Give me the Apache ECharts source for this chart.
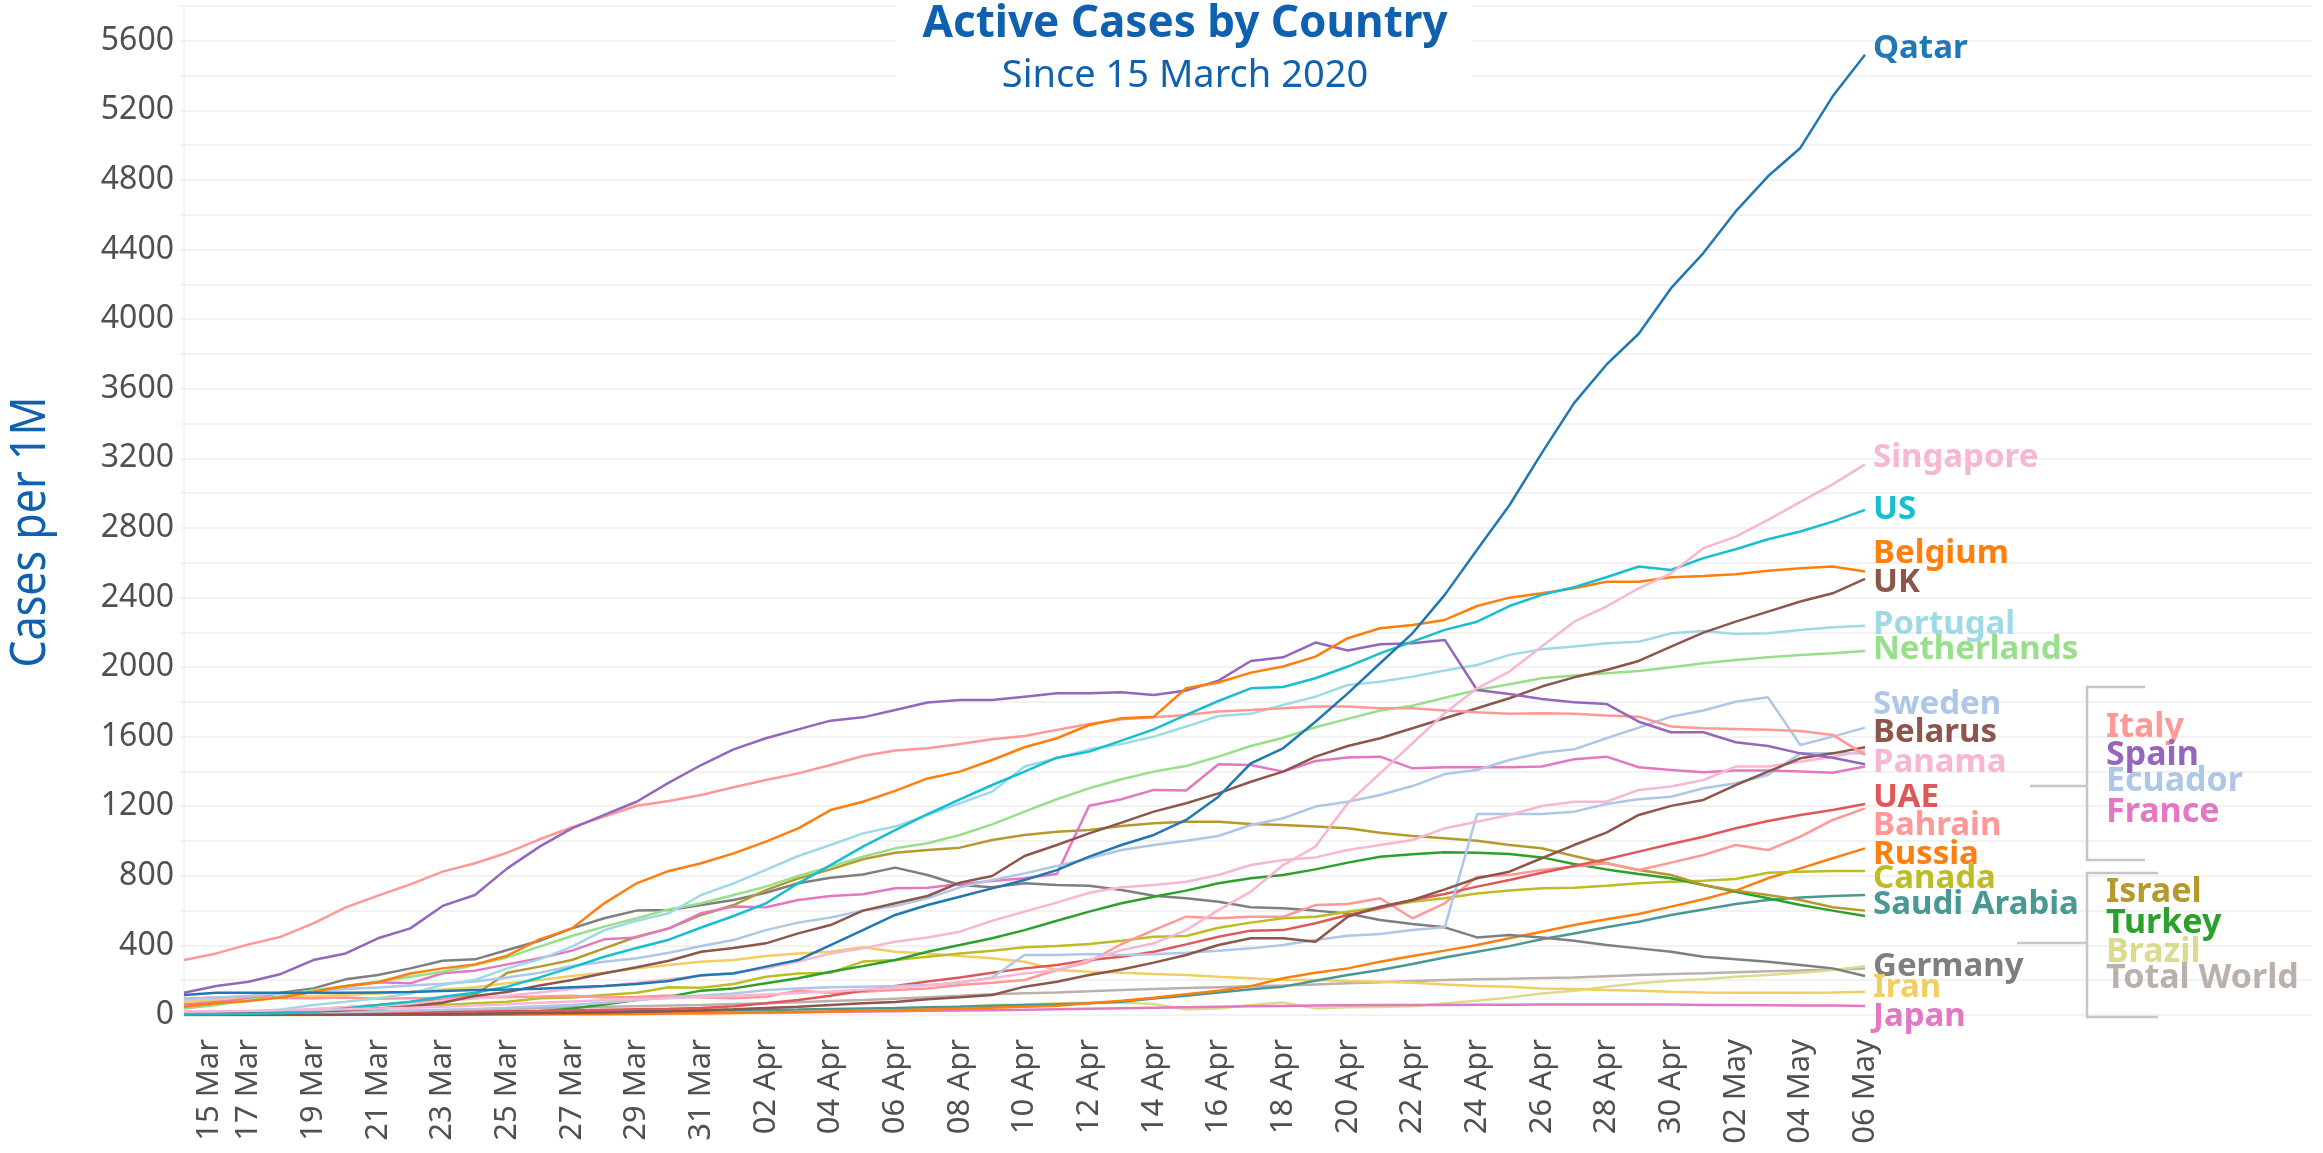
<!DOCTYPE html>
<html>
<head>
<meta charset="utf-8">
<title>Active Cases by Country</title>
<script src="https://cdn.jsdelivr.net/npm/echarts@6/dist/echarts.min.js"></script>
<style>
  html, body { margin: 0; padding: 0; background: #fff; }
  #chart { width: 2323px; height: 1153px; }
</style>
</head>
<body>
<div id="chart"></div>
<script>
// dates on the x axis, 15 Mar .. 06 May
var dates = ["15 Mar","16 Mar","17 Mar","18 Mar","19 Mar","20 Mar","21 Mar","22 Mar","23 Mar","24 Mar","25 Mar","26 Mar","27 Mar","28 Mar","29 Mar","30 Mar","31 Mar",
  "01 Apr","02 Apr","03 Apr","04 Apr","05 Apr","06 Apr","07 Apr","08 Apr","09 Apr","10 Apr","11 Apr","12 Apr","13 Apr","14 Apr","15 Apr","16 Apr","17 Apr","18 Apr","19 Apr","20 Apr",
  "21 Apr","22 Apr","23 Apr","24 Apr","25 Apr","26 Apr","27 Apr","28 Apr","29 Apr","30 Apr","01 May","02 May","03 May","04 May","05 May","06 May"];

// active cases per 1M
var qatar = [115,128,128,128,128,128,130,132,138,144,147,151,159,167,178,195,228,
  239,278,316,402,488,575,632,680,728,776,833,910,977,1035,1121,1255,1447,
  1533,1686,1849,2022,2194,2415,2674,2930,3230,3517,3738,3916,4178,4380,4619,4821,4984,5281,5520];
var singapore = [20,22,24,27,30,33,37,42,48,55,62,70,78,85,90,96,103,
  110,118,126,135,145,157,170,190,212,239,258,316,373,412,488,603,709,
  862,968,1217,1389,1562,1734,1878,1974,2118,2261,2348,2453,2539,2683,2750,2846,2950,3050,3165];
var us = [4,5,7,10,19,38,57,76,105,128,163,216,274,335,385,433,503,
  569,642,757,862,968,1063,1154,1240,1322,1399,1479,1514,1577,1642,1725,1805,1878,
  1885,1936,2003,2079,2146,2214,2261,2351,2415,2459,2516,2578,2558,2626,2677,2735,2779,2836,2904];
var belgium = [48,67,80,101,134,167,188,239,268,291,341,435,498,642,757,828,872,
  929,997,1073,1178,1226,1288,1360,1399,1466,1539,1591,1667,1706,1715,1878,1911,1968,
  2003,2060,2166,2223,2242,2271,2351,2399,2424,2453,2491,2491,2516,2524,2534,2553,2568,2578,2549];
var uk = [5,7,10,15,20,28,38,50,70,109,132,169,201,240,274,312,364,
  385,412,469,517,600,642,684,761,799,914,977,1044,1106,1169,1217,1274,1341,
  1399,1485,1546,1591,1648,1706,1763,1821,1888,1941,1983,2035,2118,2198,2261,2319,2377,2424,2507];
var portugal = [5,10,18,32,57,76,96,124,172,201,268,320,393,488,542,585,690,
  757,834,914,977,1044,1083,1150,1217,1284,1428,1476,1527,1558,1600,1658,1719,1731,
  1782,1830,1897,1916,1945,1980,2012,2070,2102,2118,2137,2146,2194,2208,2190,2194,2213,2229,2238];
var netherlands = [38,57,86,105,143,167,192,220,249,287,331,393,454,508,556,607,642,
  690,738,799,853,910,958,987,1035,1096,1169,1240,1303,1355,1399,1431,1485,1546,
  1594,1654,1702,1750,1778,1824,1868,1901,1936,1951,1964,1978,1999,2022,2041,2056,2070,2079,2093];
var sweden = [90,100,110,122,138,150,158,170,180,192,216,243,282,306,326,358,397,
  431,488,531,561,600,626,671,734,776,814,857,901,948,977,1002,1029,1092,
  1131,1198,1226,1265,1316,1385,1408,1466,1508,1527,1591,1652,1715,1750,1801,1826,1552,1600,1652];
var belarus = [0,0,0,1,1,2,3,4,5,6,8,10,12,15,18,22,27,
  33,40,48,58,68,75,90,102,115,163,191,230,262,301,345,402,441,
  441,421,565,623,661,722,786,824,901,977,1048,1150,1202,1236,1322,1399,1476,1504,1539];
var panama = [10,15,20,25,35,45,55,65,80,95,110,130,150,165,185,205,225,
  243,268,307,354,383,421,446,479,542,594,646,703,734,747,766,805,862,
  891,906,948,977,1006,1073,1111,1150,1201,1226,1226,1294,1313,1351,1428,1428,1456,1485,1520];
var uae = [10,10,12,12,13,14,15,16,18,20,22,24,27,30,33,36,40,
  50,67,86,111,140,167,192,216,243,268,287,316,335,364,406,450,485,
  488,527,575,613,661,696,738,776,818,856,895,939,983,1025,1073,1115,1150,1178,1213];
var bahrain = [95,100,104,98,96,100,94,96,98,100,103,106,110,100,104,112,100,
  96,105,140,128,134,143,153,172,186,201,259,306,408,488,565,556,565,
  565,632,638,671,556,642,795,805,834,853,872,834,876,920,977,948,1025,1121,1188];
var russia = [0,0,0,0,0,0,1,1,1,2,2,3,4,5,6,8,10,
  12,14,17,20,24,28,32,37,42,48,53,67,82,99,120,140,166,
  211,243,268,306,339,370,402,441,479,517,550,581,623,665,715,786,843,901,958];
var canada = [5,7,10,15,20,28,38,48,58,67,76,96,101,115,128,159,157,
  178,220,239,243,307,316,335,354,370,389,397,408,427,450,454,502,531,
  556,565,594,619,651,671,699,715,728,732,743,757,766,772,782,818,824,828,828];
var saudi = [2,3,4,5,6,7,8,10,11,12,14,15,17,19,21,23,25,
  27,29,31,34,37,40,44,48,53,58,62,67,76,95,110,130,148,
  163,197,230,259,293,331,364,396,435,469,504,536,575,607,638,661,676,684,690];
var germany = [40,60,92,128,153,205,230,268,312,320,374,427,498,556,600,604,632,
  661,703,757,789,808,847,805,747,734,757,747,743,718,686,671,651,619,
  613,600,584,546,523,504,446,460,446,427,402,383,364,335,320,306,287,268,224];
var iran = [76,86,90,101,109,115,124,134,147,159,182,201,224,243,268,287,306,
  316,339,354,364,389,364,354,339,326,306,259,249,243,236,230,220,211,
  201,201,195,191,186,176,167,163,153,149,143,140,134,130,128,128,128,130,134];
var japan = [3,3,3,4,4,4,5,5,6,6,7,7,8,9,10,11,12,
  13,14,16,18,20,22,24,26,28,30,33,36,39,42,45,48,50,
  52,54,56,57,58,58,59,59,60,60,60,61,60,58,57,56,55,55,52];
var italy = [316,354,406,450,527,619,686,751,824,872,933,1010,1079,1140,1203,1230,1265,
  1309,1351,1389,1437,1489,1520,1533,1558,1585,1604,1639,1673,1700,1711,1725,1744,1753,
  1763,1773,1773,1763,1763,1750,1740,1731,1734,1731,1721,1715,1658,1648,1644,1639,1633,1610,1495];
var spain = [128,167,191,236,316,354,441,498,627,690,843,968,1073,1150,1226,1336,1437,
  1527,1591,1642,1692,1711,1753,1796,1811,1811,1830,1849,1849,1855,1840,1865,1922,2035,
  2056,2141,2095,2131,2137,2156,1868,1845,1817,1798,1788,1686,1625,1625,1568,1546,1504,1479,1441];
var ecuador = [2,3,5,8,12,16,20,25,30,35,42,50,58,70,85,100,112,
  124,143,153,159,163,167,172,186,216,345,345,350,345,349,358,370,383,
  402,431,456,465,488,504,1155,1155,1155,1169,1213,1240,1255,1303,1332,1380,1504,1504,1504];
var france = [60,75,90,105,134,163,188,182,240,255,291,326,370,435,446,498,585,
  623,619,661,684,694,728,732,753,770,786,811,1203,1240,1294,1290,1441,1437,
  1399,1460,1480,1485,1418,1424,1424,1424,1428,1470,1485,1424,1408,1395,1405,1405,1399,1393,1428];
var israel = [5,10,15,22,32,45,58,75,95,115,243,278,316,383,450,498,575,
  632,718,785,837,895,933,948,962,1006,1035,1054,1063,1087,1102,1111,1111,1098,
  1092,1083,1073,1048,1029,1016,1002,977,958,914,872,834,805,747,715,690,661,619,600];
var turkey = [0,0,0,0,0,1,1,2,3,5,8,20,38,60,86,105,140,
  153,182,211,249,281,316,364,402,441,488,542,594,642,680,715,757,786,
  805,837,876,910,924,935,933,925,906,868,837,811,786,747,709,671,632,600,569];
var brazil = [0,0,0,0,1,1,2,3,4,5,6,7,8,9,10,11,12,
  13,14,16,18,22,28,38,48,57,61,67,70,71,63,32,38,57,
  72,38,45,46,50,67,82,101,124,140,163,182,197,205,220,230,243,258,281];
var totalWorld = [10,11,13,14,16,19,22,25,28,32,36,40,44,48,51,54,57,
  63,68,74,80,86,94,102,110,119,125,130,136,143,149,155,160,165,
  170,176,182,188,195,201,205,208,212,216,223,230,236,240,246,251,256,262,268];

var countries = [
  { name: "Total World", data: totalWorld, color: "#bab0ac" },
  { name: "Brazil", data: brazil, color: "#dbdb8d" },
  { name: "Japan", data: japan, color: "#e377c2" },
  { name: "Iran", data: iran, color: "#f1ce63" },
  { name: "Saudi Arabia", data: saudi, color: "#499894" },
  { name: "Russia", data: russia, color: "#ff7f0e" },
  { name: "Germany", data: germany, color: "#7f7f7f" },
  { name: "Canada", data: canada, color: "#bcbd22" },
  { name: "Turkey", data: turkey, color: "#2ca02c" },
  { name: "Israel", data: israel, color: "#b6992d" },
  { name: "Bahrain", data: bahrain, color: "#ff9896" },
  { name: "UAE", data: uae, color: "#e15759" },
  { name: "Ecuador", data: ecuador, color: "#aec7e8" },
  { name: "France", data: france, color: "#e377c2" },
  { name: "Panama", data: panama, color: "#f7b6d2" },
  { name: "Belarus", data: belarus, color: "#8c564b" },
  { name: "Sweden", data: sweden, color: "#aec7e8" },
  { name: "Netherlands", data: netherlands, color: "#98df8a" },
  { name: "Portugal", data: portugal, color: "#9edae5" },
  { name: "UK", data: uk, color: "#8c564b" },
  { name: "Italy", data: italy, color: "#ff9896" },
  { name: "Spain", data: spain, color: "#9467bd" },
  { name: "Belgium", data: belgium, color: "#ff7f0e" },
  { name: "US", data: us, color: "#17becf" },
  { name: "Singapore", data: singapore, color: "#f7b6d2" },
  { name: "Qatar", data: qatar, color: "#1f77b4" }
];

var colorOf = {};
countries.forEach(function (c) { colorOf[c.name] = c.color; });

// line-end labels (y is the text centre, picked to match the dodged labels)
var endLabels = [
  ["Qatar", 49], ["Singapore", 458], ["US", 510], ["Belgium", 554], ["UK", 583],
  ["Portugal", 625], ["Netherlands", 650], ["Sweden", 705], ["Belarus", 733], ["Panama", 763],
  ["UAE", 798], ["Bahrain", 826], ["Russia", 855], ["Canada", 879], ["Saudi Arabia", 905],
  ["Germany", 967], ["Iran", 988], ["Japan", 1017]
];
var groupLabels = [
  ["Italy", 727], ["Spain", 755], ["Ecuador", 781], ["France", 812],
  ["Israel", 892], ["Turkey", 923], ["Brazil", 952], ["Total World", 978]
];

var FONT = "'Noto Sans', 'Open Sans', sans-serif";
var BLUE = "#1060b0";
var AXIS_GREY = "#505050";

var graphics = [];
// title box
graphics.push({ type: "rect", z: 10, shape: { x: 895, y: 0, width: 577, height: 100 }, style: { fill: "#fff" } });
graphics.push({ type: "text", z: 11, x: 1185, y: 24, style: { text: "Active Cases by Country", fill: BLUE,
  font: "bold 44px " + FONT, textAlign: "center", textVerticalAlign: "middle" } });
graphics.push({ type: "text", z: 11, x: 1185, y: 76, style: { text: "Since 15 March 2020", fill: BLUE,
  font: "38px " + FONT, textAlign: "center", textVerticalAlign: "middle" } });
// y axis title, squeezed along its length like the narrow face of the original
graphics.push({ type: "text", z: 11, x: 31, y: 532, rotation: Math.PI / 2, scaleX: 0.86, style: { text: "Cases per 1M", fill: BLUE,
  font: "50px " + FONT, textAlign: "center", textVerticalAlign: "middle" } });
// first date label sits a little right of its tick
graphics.push({ type: "text", z: 11, x: 209, y: 1039, rotation: Math.PI / 2, style: { text: dates[0], fill: AXIS_GREY,
  font: "31px " + FONT, textAlign: "right", textVerticalAlign: "middle" } });

endLabels.forEach(function (l) {
  graphics.push({ type: "text", z: 12, x: 1873, y: l[1], style: { text: l[0], fill: colorOf[l[0]],
    font: "bold 33px " + FONT, textAlign: "left", textVerticalAlign: "middle" } });
});
groupLabels.forEach(function (l) {
  graphics.push({ type: "text", z: 12, x: 2106, y: l[1], style: { text: l[0], fill: colorOf[l[0]],
    font: "bold 34px " + FONT, textAlign: "left", textVerticalAlign: "middle" } });
});
// brackets round the grouped labels
var bracketStyle = { stroke: "#c6c6c6", lineWidth: 2.5, fill: null };
graphics.push({ type: "polyline", z: 12, shape: { points: [[2145, 687], [2087, 687], [2087, 860], [2145, 860]] }, style: bracketStyle });
graphics.push({ type: "line", z: 12, shape: { x1: 2030, y1: 786, x2: 2087, y2: 786 }, style: bracketStyle });
graphics.push({ type: "polyline", z: 12, shape: { points: [[2158, 873], [2087, 873], [2087, 1017], [2158, 1017]] }, style: bracketStyle });
graphics.push({ type: "line", z: 12, shape: { x1: 2017, y1: 943, x2: 2087, y2: 943 }, style: bracketStyle });

var chart = echarts.init(document.getElementById("chart"));
var option = {
  animation: false,
  backgroundColor: "#fff",
  grid: [
    { left: 180, right: 11, top: 6, bottom: 138 },
    { left: 184, right: 458, top: 6, bottom: 138 }
  ],
  xAxis: [
    { gridIndex: 0, type: "value", min: 0, max: 1, show: false },
    {
      gridIndex: 1, type: "category", data: dates, boundaryGap: false,
      axisLine: { show: false }, axisTick: { show: false }, splitLine: { show: false },
      axisLabel: {
        interval: 1, rotate: 90, margin: 24, color: AXIS_GREY, fontSize: 31, fontFamily: FONT,
        formatter: function (v, i) { return i === 0 ? "" : v; }
      }
    }
  ],
  yAxis: [
    {
      gridIndex: 0, type: "value", min: 0, max: 5800, interval: 200,
      axisLine: { show: false }, axisTick: { show: false },
      splitLine: { lineStyle: { color: "#eeeeee", width: 1.5 } },
      axisLabel: {
        margin: 6, color: AXIS_GREY, fontSize: 32, fontFamily: FONT,
        formatter: function (v) { return v % 400 === 0 ? String(v) : ""; }
      }
    },
    {
      gridIndex: 1, type: "value", min: 0, max: 5800, interval: 200,
      axisLine: { show: true, lineStyle: { color: "#f0f0f0", width: 1.5 } },
      axisTick: { show: false }, axisLabel: { show: false }, splitLine: { show: false }
    }
  ],
  series: countries.map(function (c) {
    return {
      name: c.name, type: "line", xAxisIndex: 1, yAxisIndex: 1,
      data: c.data, symbol: "none", silent: true,
      lineStyle: { color: c.color, width: 2.5 }, itemStyle: { color: c.color }
    };
  }),
  graphic: graphics
};
chart.setOption(option);
</script>
</body>
</html>
